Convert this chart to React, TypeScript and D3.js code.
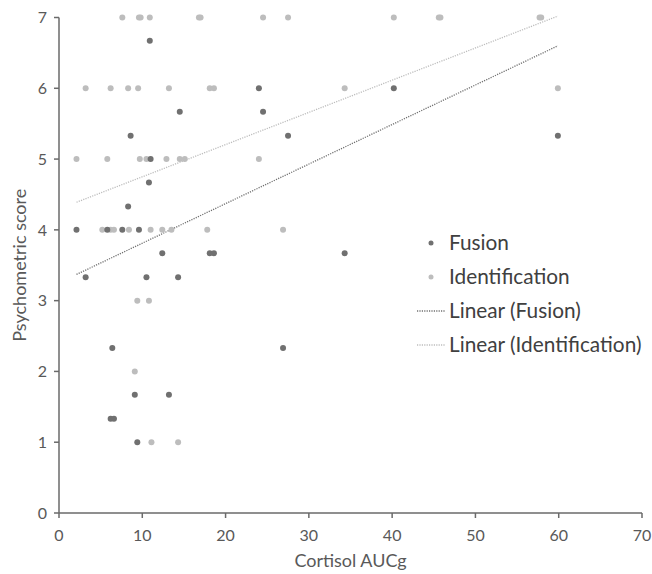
import React from "react";
import * as d3 from "d3";

const xTicks = [0, 10, 20, 30, 40, 50, 60, 70];
const yTicks = [0, 1, 2, 3, 4, 5, 6, 7];

const fusionX = [10.9, 24.0, 40.2, 14.5, 24.5, 8.6, 27.5, 59.9, 11.0, 10.8, 8.3, 2.1, 5.8, 7.6, 9.6, 12.4, 18.1, 18.6, 34.3, 3.2, 10.5, 14.3, 6.4, 26.9, 9.1, 13.2, 6.2, 6.6, 9.4];
const fusionY = [6.67, 6, 6, 5.67, 5.67, 5.33, 5.33, 5.33, 5, 4.67, 4.33, 4, 4, 4, 4, 3.67, 3.67, 3.67, 3.67, 3.33, 3.33, 3.33, 2.33, 2.33, 1.67, 1.67, 1.33, 1.33, 1];

const identX = [7.6, 9.6, 9.8, 10.9, 16.8, 17.0, 24.5, 27.5, 40.2, 45.6, 45.8, 57.7, 57.9,
  3.2, 6.2, 8.3, 9.5, 13.2, 18.1, 18.6, 34.3, 59.9,
  2.1, 5.8, 9.7, 10.5, 12.9, 14.5, 15.1, 24.0,
  5.2, 6.2, 6.6, 8.4, 11.0, 12.4, 13.5, 17.8, 26.9,
  9.4, 10.8, 9.1, 11.1, 14.3];
const identY = [7, 7, 7, 7, 7, 7, 7, 7, 7, 7, 7, 7, 7,
  6, 6, 6, 6, 6, 6, 6, 6, 6,
  5, 5, 5, 5, 5, 5, 5, 5,
  4, 4, 4, 4, 4, 4, 4, 4, 4,
  3, 3, 2, 1, 1];

// trendline endpoints (Excel linear trendlines)
const trendX = [2.1, 59.9];
const fusionTrendY = [3.37, 6.6];
const identTrendY = [4.39, 7.02];

const legendLabels = ["Fusion", "Identification", "Linear (Fusion)", "Linear (Identification)"];

const DARK = "#707070";
const LIGHT = "#bdbdbd";
const FONT = "Lato, 'Open Sans', sans-serif";

export default function App() {
  const W = 652, H = 574;
  const x = d3.scaleLinear().domain([0, 70]).range([59, 642]);
  const y = d3.scaleLinear().domain([0, 7]).range([513, 17.5]);
  const line = d3.line<number>().x((_, i) => x(trendX[i])).y(d => y(d));
  const axisColor = "#6a6a6a";
  const textColor = "#595959";

  const legendX = 417;
  const legendRows = [243, 277, 311, 345];

  return (
    <svg width={W} height={H} style={{ position: "absolute", left: 0, top: 0, background: "#fff" }}>
      {/* trendlines */}
      <path d={line(identTrendY)!} fill="none" stroke={LIGHT} strokeWidth={1.3} strokeDasharray="1.2 1.2" />
      <path d={line(fusionTrendY)!} fill="none" stroke={DARK} strokeWidth={1.3} strokeDasharray="1.2 1.2" />
      {/* points */}
      {identX.map((v, i) => (
        <circle key={"i" + i} cx={x(v)} cy={y(identY[i])} r={3} fill={LIGHT} />
      ))}
      {fusionX.map((v, i) => (
        <circle key={"f" + i} cx={x(v)} cy={y(fusionY[i])} r={3} fill={DARK} />
      ))}
      {/* axes */}
      <line x1={x(0)} x2={x(0)} y1={y(7)} y2={y(0)} stroke={axisColor} strokeWidth={1.5} />
      <line x1={x(0)} x2={x(70)} y1={y(0)} y2={y(0)} stroke={axisColor} strokeWidth={1.5} />
      {yTicks.map(t => (
        <g key={"yt" + t}>
          <line x1={x(0) - 5} x2={x(0)} y1={y(t)} y2={y(t)} stroke={axisColor} strokeWidth={1.5} />
          <text x={47} y={y(t)} dy="0.36em" textAnchor="end" fontFamily={FONT} fontSize={16} fill={textColor}>{t}</text>
        </g>
      ))}
      {xTicks.map(t => (
        <g key={"xt" + t}>
          <line x1={x(t)} x2={x(t)} y1={y(0)} y2={y(0) + 5} stroke={axisColor} strokeWidth={1.5} />
          <text x={x(t)} y={541} textAnchor="middle" fontFamily={FONT} fontSize={16} fill={textColor}>{t}</text>
        </g>
      ))}
      <text x={(x(0) + x(70)) / 2} y={567} textAnchor="middle" fontFamily={FONT} fontSize={18} fill={textColor}>Cortisol AUCg</text>
      <text transform={`translate(26, ${(y(0) + y(7)) / 2}) rotate(-90)`} textAnchor="middle" fontFamily={FONT} fontSize={18} fill={textColor}>Psychometric score</text>
      {/* legend */}
      <circle cx={legendX + 14} cy={legendRows[0]} r={2.5} fill={DARK} />
      <circle cx={legendX + 14} cy={legendRows[1]} r={2.5} fill={LIGHT} />
      <line x1={legendX} x2={legendX + 28} y1={legendRows[2]} y2={legendRows[2]} stroke={DARK} strokeWidth={1.3} strokeDasharray="1.2 1.2" />
      <line x1={legendX} x2={legendX + 28} y1={legendRows[3]} y2={legendRows[3]} stroke={LIGHT} strokeWidth={1.3} strokeDasharray="1.2 1.2" />
      {legendLabels.map((l, i) => (
        <text key={l} x={449} y={legendRows[i]} dy="0.36em" fontFamily={FONT} fontSize={20.8} fill="#404040">{l}</text>
      ))}
    </svg>
  );
}
